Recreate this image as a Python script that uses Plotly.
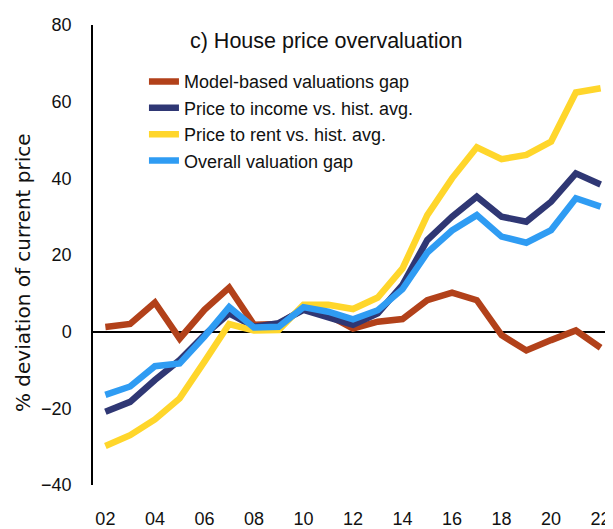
import plotly.graph_objects as go

# Years 2002-2022
years = [2002, 2003, 2004, 2005, 2006, 2007, 2008, 2009, 2010, 2011, 2012,
         2013, 2014, 2015, 2016, 2017, 2018, 2019, 2020, 2021, 2022]

model_gap = [1.2, 2.0, 7.6, -1.8, 5.7, 11.5, 1.8, 2.0, 6.0, 4.3, 0.8,
             2.6, 3.3, 8.2, 10.2, 8.2, -0.9, -4.9, -2.2, 0.3, -4.2]
price_income = [-20.9, -18.3, -12.6, -7.4, -0.9, 4.8, 1.3, 2.2, 5.7, 3.9, 1.8,
                4.8, 12.2, 23.9, 30.0, 35.2, 30.0, 28.7, 33.9, 41.3, 38.4]
price_rent = [-29.8, -27.0, -22.9, -17.4, -7.8, 2.0, 0.3, 0.4, 7.0, 7.0, 5.9,
              8.9, 16.5, 30.4, 40.0, 48.1, 45.0, 46.1, 49.6, 62.4, 63.5]
overall_gap = [-16.5, -14.3, -9.0, -8.3, -1.3, 6.4, 1.1, 1.3, 6.4, 5.2, 3.2,
               5.6, 11.1, 20.6, 26.4, 30.4, 24.8, 23.2, 26.5, 34.8, 32.6]

tick_years = [2002, 2004, 2006, 2008, 2010, 2012, 2014, 2016, 2018, 2020, 2022]
tick_text = ['02', '04', '06', '08', '10', '12', '14', '16', '18', '20', '22']

series = [
    ('Model-based valuations gap', model_gap, '#B2411A'),
    ('Price to income vs. hist. avg.', price_income, '#2F3774'),
    ('Price to rent vs. hist. avg.', price_rent, '#FFD62B'),
    ('Overall valuation gap', overall_gap, '#2F9CF3'),
]

fig = go.Figure()
for i, (name, vals, color) in enumerate(series):
    fig.add_trace(go.Scatter(
        x=years, y=vals, name=name, mode='lines', legendgroup='g%d' % i,
        line=dict(color=color, width=6.5)
    ))

font = 'Liberation Sans, Arial, sans-serif'

# page body has an 8px margin, so the figure is sized to fill the rest of the window
fig.update_layout(
    width=605, height=521,
    margin=dict(l=84.5, r=0, t=17, b=44),
    plot_bgcolor='white', paper_bgcolor='white',
    font=dict(family=font, size=18, color='#111111'),
    title=dict(text='c) House price overvaluation', x=0.526, xanchor='center',
               y=0.9386, yanchor='middle', font=dict(size=21.5, color='#111111')),
    showlegend=True,
    legend=dict(x=0.098, y=0.917, xanchor='left', yanchor='top',
                bgcolor='rgba(0,0,0,0)', font=dict(size=18, color='#111111'),
                tracegroupgap=0),
    xaxis=dict(range=[2001.5, 2022.5], tickvals=tick_years, ticktext=tick_text,
               showgrid=False, zeroline=False, showline=False, automargin=False,
               ticks='', ticklabelstandoff=21),
    yaxis=dict(range=[-40, 80], dtick=20, showgrid=False, automargin=False,
               zeroline=True, zerolinecolor='black', zerolinewidth=1.5,
               showline=True, linecolor='black', linewidth=1.5,
               ticks='', ticklabelstandoff=16),
)

fig.add_annotation(
    text='% deviation of current price', textangle=-90,
    xref='paper', yref='paper', x=-0.135, y=0.4626,
    xanchor='center', yanchor='middle', showarrow=False,
    font=dict(family='DejaVu Sans, Verdana, sans-serif', size=20, color='#111111')
)

fig.write_html("out.html")
